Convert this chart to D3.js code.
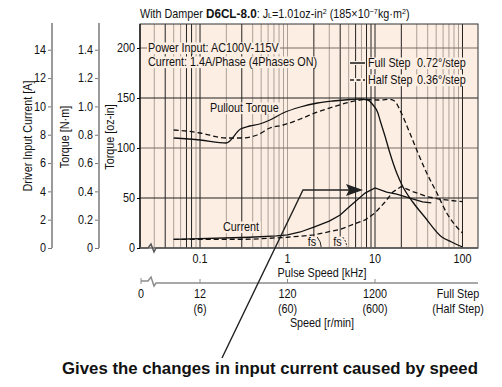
<!DOCTYPE html>
<html lang="en">
<head>
<meta charset="UTF-8">
<title>D6CL-8.0 Speed - Torque</title>
<script src="https://d3js.org/d3.v7.min.js"></script>
<style>
  body { margin: 0; padding: 0; background: #fff; }
  svg text { font-family: "Liberation Sans", Arial, Helvetica, sans-serif; fill: #111; font-size: 12px; }
  .big { font-weight: bold; }
</style>
</head>
<body>
<svg id="chart" width="502" height="387"></svg>
<script>
// pulse speed grid [kHz]
const gridLines = [0.03,0.04,0.05,0.06,0.07,0.08,0.09,0.1,0.2,0.3,0.4,0.5,0.6,0.7,0.8,0.9,
                   1,2,3,4,5,6,7,8,9,10,20,30,40,50,60,70,80,90,100];
const gridDark = [0.04,0.07,0.08,0.1,0.3,2,4,6,8,9,10,20,100];
const pulseTicks = [0.1, 1, 10, 100];
const pulseLabels = ["0.1", "1", "10", "100"];
const speedFull = ["12", "120", "1200"];
const speedHalf = ["(6)", "(60)", "(600)"];
const torqueTicks = [0, 50, 100, 150, 200];
const torqueGridDark = [50, 150];
const currentTicks = [0, 2, 4, 6, 8, 10, 12, 14];
const nmTicks = [0, 0.2, 0.4, 0.6, 0.8, 1.0, 1.2, 1.4];

// pullout torque [kHz, oz-in]
const fullTorque = [[0.05,110],[0.1,108],[0.2,105],[0.29,119],[0.37,122],[0.48,124],[0.63,128],[0.89,135],
  [1.4,141],[2.2,145],[3.3,147],[5.2,148.5],[6.7,149],[8.3,148],[9.5,143],[10.8,135],[11.4,128],[13,112],
  [14.8,95],[17.7,75],[20.9,61],[27,46],[37,31],[58,11],[75,6],[100,1]];
const halfTorque = [[0.05,118],[0.07,117],[0.1,115],[0.2,110],[0.29,110],[0.45,113],[0.63,120],[0.89,123],
  [1.4,129],[2.2,136],[3.3,141],[5.2,146],[8,148.5],[11.4,148],[14.8,148.7],[16.7,147],[20,135],[25,115],
  [31,95],[39,75],[51,55],[66,35],[86,21],[100,15]];
// driver input current [kHz, A]
const fullCurrent = [[0.05,0.61],[0.37,0.76],[0.75,0.85],[1,0.92],[1.4,1.13],[2,1.48],[3,1.9],[4,2.33],
  [5.2,2.97],[7.7,3.88],[10,4.24],[13.6,3.95],[17.7,3.81],[25,3.53],[35,3.25],[44,3.18]];
const halfCurrent = [[0.05,0.61],[0.4,0.62],[1,0.76],[2,0.92],[4,1.32],[7.7,1.98],[10,2.47],[13,3.25],
  [16,3.95],[20,4.34],[27,3.98],[40,3.62],[56,3.44],[100,3.27]];
const fsFreq = [2.3, 4.5];

const L = 140, R = 478, T = 24, B = 248;
const bg = "#fdeee3", gray = "#ab9f97", dark = "#222";
const SX = 0.9; // squeeze to imitate the condensed face

const svg = d3.select("#chart");
const x = d3.scaleLog().domain([0.0206, 150.4]).range([L, R]);
const y = d3.scaleLinear().domain([0, 224]).range([B, T]);
const yA = d3.scaleLinear().domain([0, 224 / 14.16]).range([B, T]);
const yN = d3.scaleLinear().domain([0, 224 / 141.6]).range([B, T]);

// put text x/y into a transform so it can be squeezed horizontally
function cond(sel) {
  sel.each(function () {
    const t = d3.select(this);
    const x0 = +t.attr("x") || 0, y0 = +t.attr("y") || 0;
    t.attr("x", null).attr("y", null).attr("transform", `translate(${x0},${y0}) scale(${SX},1)`);
  });
  return sel;
}
function txt(parent, tx, ty, str, anchor) {
  return cond(parent.append("text").attr("x", tx).attr("y", ty).attr("text-anchor", anchor || "start").text(str));
}

// plot background
svg.append("rect").attr("x", L).attr("y", T).attr("width", R - L).attr("height", B - T).attr("fill", bg);

const grid = svg.append("g");
grid.selectAll(".v").data(gridLines).enter().append("line")
  .attr("x1", d => x(d)).attr("x2", d => x(d)).attr("y1", T).attr("y2", B)
  .attr("stroke", d => gridDark.includes(d) ? dark : gray).attr("stroke-width", 1);
grid.selectAll(".h").data(torqueTicks.slice(1)).enter().append("line")
  .attr("x1", L).attr("x2", R).attr("y1", d => y(d)).attr("y2", d => y(d))
  .attr("stroke", d => torqueGridDark.includes(d) ? dark : "#7a6d66").attr("stroke-width", 1.2);

// masks behind labels, added before the curves
const masks = svg.append("g");
const curves = svg.append("g");
const labels = svg.append("g");

function label(tx, ty, str, anchor) {
  const t = txt(labels, tx, ty, str, anchor);
  const bb = t.node().getBBox();
  masks.append("rect").attr("x", tx + bb.x * SX - 1).attr("y", ty + bb.y + 1)
    .attr("width", bb.width * SX + 2).attr("height", bb.height - 1).attr("fill", bg);
  return t;
}

// frame
svg.append("rect").attr("x", L).attr("y", T).attr("width", R - L).attr("height", B - T)
  .attr("fill", "none").attr("stroke", "#333").attr("stroke-width", 1);
svg.append("line").attr("x1", L).attr("x2", L).attr("y1", T).attr("y2", B).attr("stroke", dark).attr("stroke-width", 1.5);

// curves
const torqueLine = d3.line().x(d => x(d[0])).y(d => y(d[1])).curve(d3.curveMonotoneX);
const currentLine = d3.line().x(d => x(d[0])).y(d => yA(d[1]));
const series = [
  { data: fullTorque, gen: torqueLine, dash: null },
  { data: halfTorque, gen: torqueLine, dash: "5,3" },
  { data: fullCurrent, gen: currentLine, dash: null },
  { data: halfCurrent, gen: currentLine, dash: "5,3" }
];
curves.selectAll("path").data(series).enter().append("path")
  .attr("d", d => d.gen(d.data)).attr("fill", "none").attr("stroke", "#111")
  .attr("stroke-width", 1.3).attr("stroke-dasharray", d => d.dash);

// fs marks
fsFreq.forEach((f, i) => {
  const fx = x(f);
  curves.append("path").attr("d", `M${fx - 2},${B - 11} Q${fx + 2},${B - 6} ${fx + 2},${B - 1}`)
    .attr("fill", "none").attr("stroke", dark).attr("stroke-width", 1).attr("stroke-dasharray", i ? "2,1.5" : null);
  label(fx - 3, B - 2, "fs", "end");
});

// texts inside plot
label(148, 52, "Power Input: AC100V-115V");
label(148, 66, "Current: 1.4A/Phase (4Phases ON)");
label(210, 112, "Pullout Torque");
label(223, 231, "Current");

// legend
const legendRows = [["Full Step", "0.72°/step", null], ["Half Step", "0.36°/step", "4,2.5"]];
legendRows.forEach((r, i) => {
  const ly = 63 + i * 17;
  masks.append("rect").attr("x", 349).attr("y", ly - 2).attr("width", 17).attr("height", 4).attr("fill", bg);
  labels.append("line").attr("x1", 350).attr("x2", 365).attr("y1", ly).attr("y2", ly)
    .attr("stroke", dark).attr("stroke-width", 1.6).attr("stroke-dasharray", r[2]);
  label(368, ly + 4, r[0]);
  label(417, ly + 4, r[1]);
});

// main y axis
const axT = svg.append("g").attr("transform", `translate(${L},0)`)
  .call(d3.axisLeft(y).tickValues(torqueTicks).tickSize(3).tickPadding(2));
axT.select(".domain").remove();
cond(axT.selectAll("text").style("font-size", null).attr("font-family", null).attr("font-size", null));

// left axes
function sideAxis(xPos, scale, ticks, fmt) {
  const g = svg.append("g").attr("transform", `translate(${xPos},0)`)
    .call(d3.axisLeft(scale).tickValues(ticks).tickSize(4).tickPadding(2).tickFormat(fmt));
  g.select(".domain").remove();
  g.attr("font-family", null).attr("font-size", null);
  g.append("line").attr("y1", T - 1).attr("y2", B).attr("stroke", "#9a9a9a").attr("stroke-width", 2);
  g.selectAll(".tick line").attr("stroke", "#777");
  cond(g.selectAll("text"));
}
axT.attr("font-family", null).attr("font-size", null);
sideAxis(52, yA, currentTicks, d3.format("d"));
sideAxis(99, yN, nmTicks, d => d === 0 ? "0" : d3.format(".1f")(d));

function vTitle(cx, cy, str) {
  svg.append("text").attr("transform", `translate(${cx},${cy}) rotate(-90) scale(${SX},1)`)
    .attr("text-anchor", "middle").attr("dy", "0.35em").text(str);
}
vTitle(28, 136, "Driver Input Current [A]");
vTitle(65, 137, "Torque [N·m]");
vTitle(110, 137, "Torque [oz-in]");

// bottom pulse axis with break
svg.append("rect").attr("x", 145).attr("y", B + 1).attr("width", 14).attr("height", 6).attr("fill", "#fff");
svg.append("path").attr("d", `M${L},${B} L148,${B} L151,${B - 4} L154,${B + 4} L156,${B} L${R},${B}`)
  .attr("fill", "none").attr("stroke", "#555").attr("stroke-width", 1.5);
pulseTicks.forEach((d, i) => txt(svg, x(d), B + 15, pulseLabels[i], "middle"));
txt(svg, 322, 277, "Pulse Speed [kHz]", "middle");

// speed axis
const SY = 283;
svg.append("path").attr("d", `M141,${SY - 2} L148,${SY - 2} L151,${SY - 6} L154,${SY + 3} L156,${SY} L${R},${SY}`)
  .attr("fill", "none").attr("stroke", "#8c8c8c").attr("stroke-width", 1.5);
svg.append("line").attr("x1", 141).attr("x2", 141).attr("y1", SY - 5).attr("y2", SY + 1).attr("stroke", "#8c8c8c");
svg.selectAll(".st").data(pulseTicks.slice(0, 3)).enter().append("line")
  .attr("x1", d => x(d)).attr("x2", d => x(d)).attr("y1", SY - 4).attr("y2", SY).attr("stroke", "#8c8c8c");
txt(svg, 141, SY + 15, "0", "middle");
pulseTicks.slice(0, 3).forEach((d, i) => {
  txt(svg, x(d), SY + 15, speedFull[i], "middle");
  txt(svg, x(d), SY + 30, speedHalf[i], "middle");
});
txt(svg, 458, SY + 15, "Full Step", "middle");
txt(svg, 458, SY + 30, "(Half Step)", "middle");
txt(svg, 322, SY + 44, "Speed [r/min]", "middle");

// title
const title = cond(svg.append("text").attr("x", 140).attr("y", 18));
title.append("tspan").text("With Damper ");
title.append("tspan").style("font-weight", "bold").style("font-size", "13px").text("D6CL-8.0");
title.append("tspan").text(": J");
title.append("tspan").style("font-size", "8px").text("L");
title.append("tspan").text("=1.01oz-in");
title.append("tspan").attr("dy", -4).style("font-size", "8px").text("2");
title.append("tspan").attr("dy", 4).text(" (185×10");
title.append("tspan").attr("dy", -4).style("font-size", "8px").text("−7");
title.append("tspan").attr("dy", 4).text("kg·m");
title.append("tspan").attr("dy", -4).style("font-size", "8px").text("2");
title.append("tspan").attr("dy", 4).text(")");

// callout
svg.append("path").attr("d", "M222,358 L303,190 L350,190").attr("fill", "none").attr("stroke", dark).attr("stroke-width", 1.4);
svg.append("path").attr("d", "M363,190 L346,184 L349,190 L346,196 Z").attr("fill", dark);
svg.append("text").attr("class", "big").attr("x", 270).attr("y", 374).attr("text-anchor", "middle")
  .style("font-size", "16.8px").text("Gives the changes in input current caused by speed");
</script>
</body>
</html>
